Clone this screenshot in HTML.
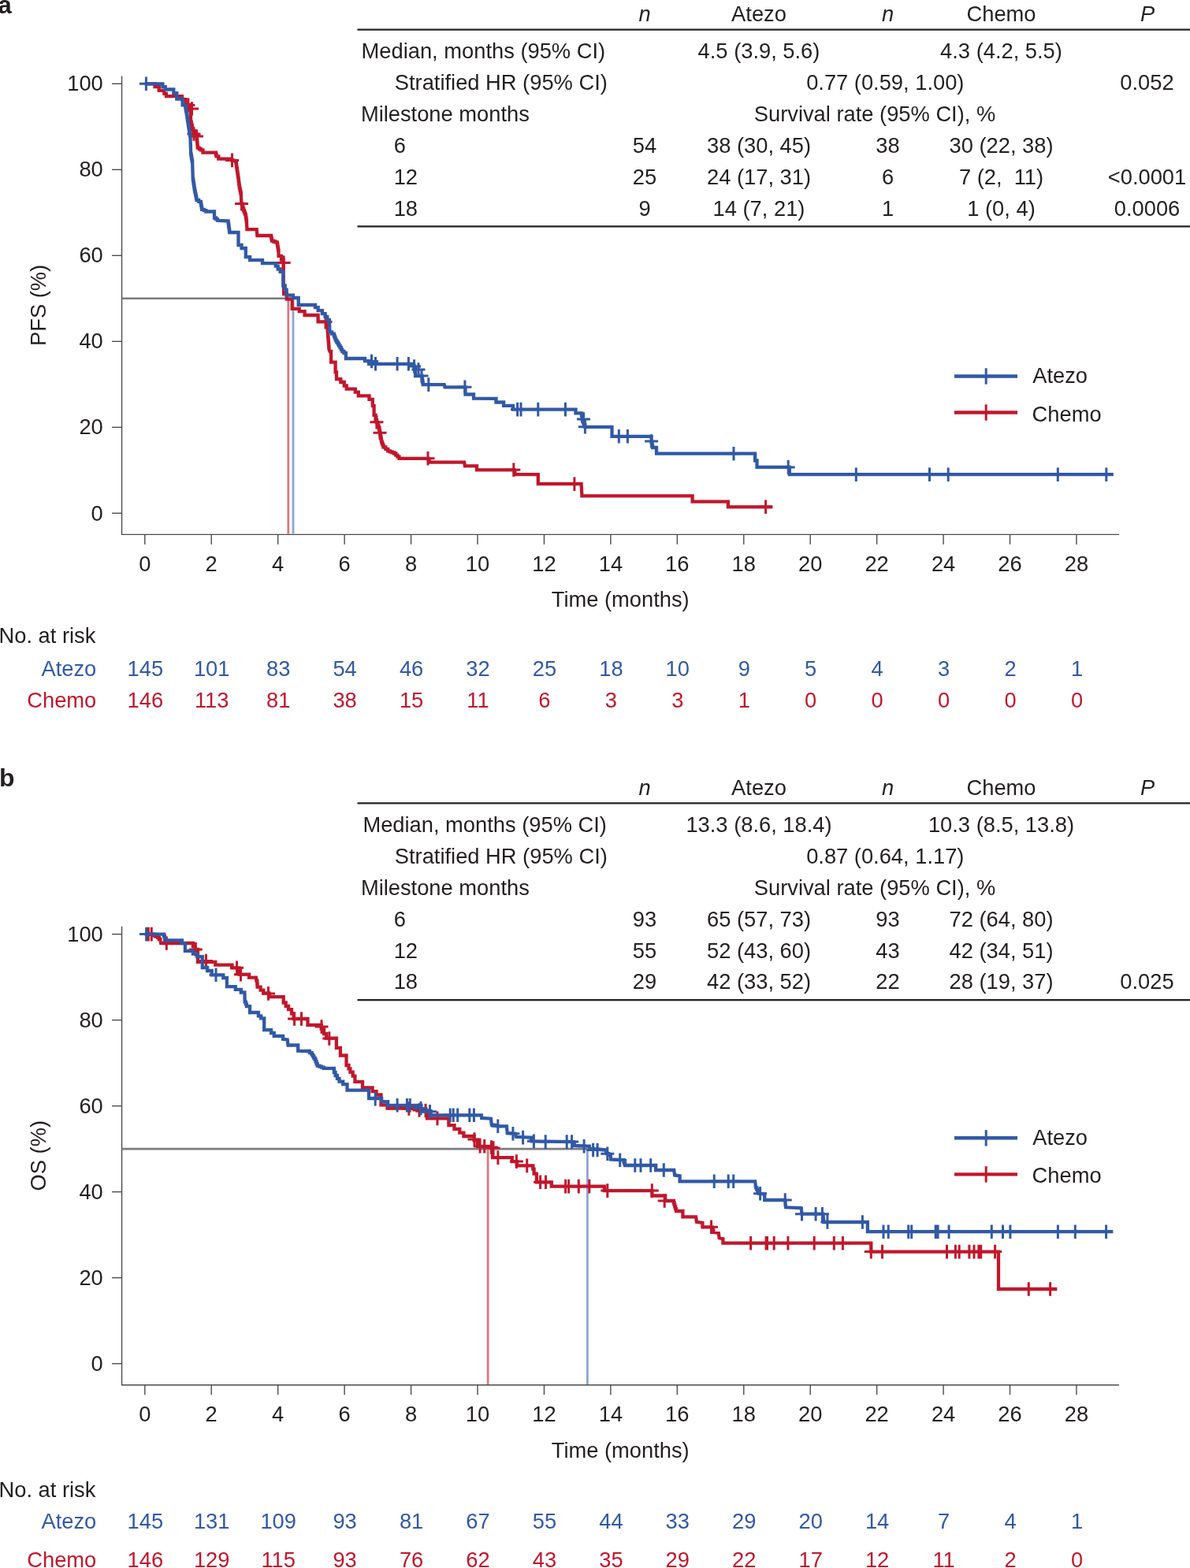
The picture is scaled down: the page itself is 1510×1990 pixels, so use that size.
<!DOCTYPE html>
<html><head><meta charset="utf-8"><title>Kaplan-Meier PFS and OS</title>
<style>html,body{margin:0;padding:0;background:#fff;}body{width:1510px;height:1990px;overflow:hidden;}svg{display:block;}</style>
</head><body>
<svg width="1510" height="1990" viewBox="0 0 1510 1990" font-family="Liberation Sans, Arial, Helvetica, sans-serif">
<rect width="1510" height="1990" fill="#fff"/>
<text x="-2.5" y="17.3" font-size="31" font-weight="bold" fill="#231f20">a</text>
<text x="-1" y="998" font-size="32" font-weight="bold" fill="#231f20">b</text>
<g>
<path d="M154.55,96.4 V678.4 H1420" fill="none" stroke="#4d4b4c" stroke-width="1.4"/>
<line x1="142" y1="651.35" x2="154.55" y2="651.35" stroke="#4d4b4c" stroke-width="1.4"/>
<text x="130.8" y="660.5" text-anchor="end" fill="#231f20" font-size="27.3" >0</text>
<line x1="142" y1="542.34" x2="154.55" y2="542.34" stroke="#4d4b4c" stroke-width="1.4"/>
<text x="130.8" y="551.4" text-anchor="end" fill="#231f20" font-size="27.3" >20</text>
<line x1="142" y1="433.33" x2="154.55" y2="433.33" stroke="#4d4b4c" stroke-width="1.4"/>
<text x="130.8" y="442.4" text-anchor="end" fill="#231f20" font-size="27.3" >40</text>
<line x1="142" y1="324.32" x2="154.55" y2="324.32" stroke="#4d4b4c" stroke-width="1.4"/>
<text x="130.8" y="333.4" text-anchor="end" fill="#231f20" font-size="27.3" >60</text>
<line x1="142" y1="215.31" x2="154.55" y2="215.31" stroke="#4d4b4c" stroke-width="1.4"/>
<text x="130.8" y="224.4" text-anchor="end" fill="#231f20" font-size="27.3" >80</text>
<line x1="142" y1="106.30" x2="154.55" y2="106.30" stroke="#4d4b4c" stroke-width="1.4"/>
<text x="130.8" y="115.4" text-anchor="end" fill="#231f20" font-size="27.3" >100</text>
<line x1="183.80" y1="678.4" x2="183.80" y2="690.90" stroke="#4d4b4c" stroke-width="1.4"/>
<text x="183.8" y="724.6" text-anchor="middle" fill="#231f20" font-size="27.3" >0</text>
<line x1="268.24" y1="678.4" x2="268.24" y2="690.90" stroke="#4d4b4c" stroke-width="1.4"/>
<text x="268.2" y="724.6" text-anchor="middle" fill="#231f20" font-size="27.3" >2</text>
<line x1="352.68" y1="678.4" x2="352.68" y2="690.90" stroke="#4d4b4c" stroke-width="1.4"/>
<text x="352.7" y="724.6" text-anchor="middle" fill="#231f20" font-size="27.3" >4</text>
<line x1="437.12" y1="678.4" x2="437.12" y2="690.90" stroke="#4d4b4c" stroke-width="1.4"/>
<text x="437.1" y="724.6" text-anchor="middle" fill="#231f20" font-size="27.3" >6</text>
<line x1="521.56" y1="678.4" x2="521.56" y2="690.90" stroke="#4d4b4c" stroke-width="1.4"/>
<text x="521.6" y="724.6" text-anchor="middle" fill="#231f20" font-size="27.3" >8</text>
<line x1="606.00" y1="678.4" x2="606.00" y2="690.90" stroke="#4d4b4c" stroke-width="1.4"/>
<text x="606.0" y="724.6" text-anchor="middle" fill="#231f20" font-size="27.3" >10</text>
<line x1="690.44" y1="678.4" x2="690.44" y2="690.90" stroke="#4d4b4c" stroke-width="1.4"/>
<text x="690.4" y="724.6" text-anchor="middle" fill="#231f20" font-size="27.3" >12</text>
<line x1="774.88" y1="678.4" x2="774.88" y2="690.90" stroke="#4d4b4c" stroke-width="1.4"/>
<text x="774.9" y="724.6" text-anchor="middle" fill="#231f20" font-size="27.3" >14</text>
<line x1="859.32" y1="678.4" x2="859.32" y2="690.90" stroke="#4d4b4c" stroke-width="1.4"/>
<text x="859.3" y="724.6" text-anchor="middle" fill="#231f20" font-size="27.3" >16</text>
<line x1="943.76" y1="678.4" x2="943.76" y2="690.90" stroke="#4d4b4c" stroke-width="1.4"/>
<text x="943.8" y="724.6" text-anchor="middle" fill="#231f20" font-size="27.3" >18</text>
<line x1="1028.20" y1="678.4" x2="1028.20" y2="690.90" stroke="#4d4b4c" stroke-width="1.4"/>
<text x="1028.2" y="724.6" text-anchor="middle" fill="#231f20" font-size="27.3" >20</text>
<line x1="1112.64" y1="678.4" x2="1112.64" y2="690.90" stroke="#4d4b4c" stroke-width="1.4"/>
<text x="1112.6" y="724.6" text-anchor="middle" fill="#231f20" font-size="27.3" >22</text>
<line x1="1197.08" y1="678.4" x2="1197.08" y2="690.90" stroke="#4d4b4c" stroke-width="1.4"/>
<text x="1197.1" y="724.6" text-anchor="middle" fill="#231f20" font-size="27.3" >24</text>
<line x1="1281.52" y1="678.4" x2="1281.52" y2="690.90" stroke="#4d4b4c" stroke-width="1.4"/>
<text x="1281.5" y="724.6" text-anchor="middle" fill="#231f20" font-size="27.3" >26</text>
<line x1="1365.96" y1="678.4" x2="1365.96" y2="690.90" stroke="#4d4b4c" stroke-width="1.4"/>
<text x="1366.0" y="724.6" text-anchor="middle" fill="#231f20" font-size="27.3" >28</text>
<text x="787.2" y="770.4" text-anchor="middle" fill="#231f20" font-size="27.3" >Time (months)</text>
<text x="0" y="0" transform="translate(58.3,387.4) rotate(-90)" text-anchor="middle" fill="#231f20" font-size="27.3">PFS (%)</text>
<line x1="154.55" y1="378.82" x2="372" y2="378.82" stroke="#7b7c7e" stroke-width="2.6"/>
<line x1="365.8" y1="378.82" x2="365.8" y2="677.70" stroke="#d97a7f" stroke-width="2.8"/>
<line x1="372.0" y1="378.82" x2="372.0" y2="677.70" stroke="#8ea5d1" stroke-width="2.8"/>
<path d="M183.8,106.3 L196.5,106.3 L196.5,110.2 L201.8,110.2 L201.8,114.9 L208.4,114.9 L208.4,118.8 L211.0,118.8 L211.0,122.2 L230.9,122.2 L230.9,126.1 L235.6,126.1 L235.6,132.0 L238.0,133.0 L239.8,133.0 L239.8,135.8 L241.5,135.8 L241.5,138.7 L242.2,154.6 L242.7,154.6 L242.7,156.9 L243.2,156.9 L243.2,159.2 L243.7,159.2 L243.7,161.6 L244.2,161.6 L244.2,163.9 L245.1,163.9 L245.1,166.1 L245.9,166.1 L245.9,168.3 L246.8,168.3 L246.8,170.5 L249.5,170.5 L249.5,173.1 L249.7,173.1 L249.7,175.5 L249.9,175.5 L249.9,178.0 L250.2,178.0 L250.2,180.4 L250.4,180.4 L250.4,182.8 L250.6,182.8 L250.6,185.3 L250.8,185.3 L250.8,187.7 L252.8,187.7 L252.8,189.0 L254.8,189.0 L254.8,190.3 L257.4,190.3 L257.4,193.7 L273.3,193.7 L274.0,193.7 L274.0,196.0 L274.6,196.0 L274.6,198.3 L277.3,198.3 L277.3,201.6 L289.2,201.6 L291.9,201.6 L291.9,202.6 L294.5,202.6 L294.5,203.6 L296.8,203.6 L296.8,204.2 L299.1,204.2 L299.1,204.9 L299.5,204.9 L299.5,207.2 L299.8,207.2 L299.8,209.6 L300.1,209.6 L300.1,211.9 L300.5,211.9 L300.5,214.2 L300.9,214.2 L300.9,216.9 L301.3,216.9 L301.3,219.5 L301.7,219.5 L301.7,222.2 L302.1,222.2 L302.1,224.8 L302.5,224.8 L302.5,227.5 L302.8,227.5 L302.8,230.1 L303.1,230.1 L303.1,232.8 L303.5,232.8 L303.5,235.4 L303.8,235.4 L303.8,238.0 L304.3,238.0 L304.3,240.3 L304.8,240.3 L304.8,242.7 L305.3,242.7 L305.3,245.0 L305.8,245.0 L305.8,247.3 L306.4,258.6 L307.3,258.6 L307.3,261.5 L308.2,261.5 L308.2,264.3 L309.1,264.3 L309.1,267.2 L310.0,267.2 L310.0,269.4 L310.8,269.4 L310.8,271.6 L311.7,271.6 L311.7,273.8 L312.0,273.8 L312.0,276.1 L312.4,276.1 L312.4,278.5 L312.7,278.5 L312.7,280.8 L313.0,280.8 L313.0,283.1 L313.4,291.1 L325.7,291.1 L326.4,299.0 L343.6,299.0 L344.0,299.0 L344.0,301.2 L344.5,301.2 L344.5,303.4 L344.9,303.4 L344.9,305.6 L347.1,305.6 L347.1,306.5 L349.3,306.5 L349.3,307.4 L351.5,307.4 L351.5,308.3 L351.9,308.3 L351.9,310.7 L352.3,310.7 L352.3,313.1 L352.7,313.1 L352.7,315.4 L353.1,315.4 L353.1,317.8 L353.5,317.8 L353.5,320.2 L353.5,324.8 L357.0,324.8 L357.0,329.5 L359.5,329.5 L359.7,355.0 L360.2,373.0 L363.8,373.0 L363.8,379.6 L370.7,379.6 L370.7,391.8 L379.7,391.8 L379.7,395.2 L386.6,395.2 L386.6,400.0 L403.6,400.0 L403.6,408.3 L414.3,408.3 L415.1,411.8 L415.9,422.9 L416.1,422.9 L416.1,425.5 L416.3,425.5 L416.3,428.1 L416.5,428.1 L416.5,430.7 L416.7,430.7 L416.7,433.2 L416.9,433.2 L416.9,435.8 L417.1,435.8 L417.1,438.4 L417.3,438.4 L417.3,441.0 L417.5,441.0 L417.5,443.6 L418.5,446.0 L420.1,446.0 L420.1,459.6 L425.6,459.6 L425.6,472.3 L427.0,472.3 L427.0,481.1 L432.3,481.1 L432.3,485.0 L436.8,485.0 L436.8,489.5 L439.7,489.5 L439.7,493.6 L450.8,493.6 L450.8,497.7 L454.8,497.7 L454.8,502.3 L468.5,502.3 L468.5,506.8 L472.8,506.8 L472.8,515.2 L474.6,515.2 L474.6,526.9 L476.5,526.9 L476.5,533.2 L478.0,533.2 L478.0,535.8 L478.8,535.8 L478.8,537.9 L479.5,537.9 L479.5,540.0 L480.3,540.0 L480.3,542.1 L480.9,542.1 L480.9,544.5 L481.4,544.5 L481.4,546.9 L482.0,546.9 L482.0,549.3 L482.4,549.3 L482.4,551.7 L482.9,551.7 L482.9,554.1 L483.3,554.1 L483.3,556.4 L483.8,556.4 L483.8,558.8 L484.2,558.8 L484.2,561.2 L485.0,561.2 L485.0,563.3 L485.8,563.3 L485.8,565.4 L486.6,565.4 L486.6,567.5 L489.4,567.5 L489.4,569.9 L492.2,569.9 L492.2,572.3 L494.8,572.3 L494.8,573.4 L497.5,573.4 L497.5,574.4 L500.1,574.4 L500.1,575.5 L502.2,575.5 L502.2,577.6 L504.4,577.6 L504.4,579.7 L506.5,579.7 L506.5,581.8 L543.0,581.8 L543.8,581.8 L543.8,584.2 L544.6,584.2 L544.6,586.6 L589.1,586.6 L589.9,591.4 L605.0,591.4 L605.0,596.3 L651.8,596.3 L652.6,596.3 L652.6,599.2 L653.4,599.2 L653.4,602.2 L682.8,602.2 L682.8,614.2 L737.6,614.2 L738.4,629.3 L878.6,629.3 L878.6,636.6 L923.9,636.6 L923.9,643.3 L980.3,643.3" fill="none" stroke="#c0172c" stroke-width="4.3" stroke-linejoin="miter" stroke-linecap="butt"/>
<path d="M238.9,124.6v17.6M230.4,133.4h17M243.5,129.2v17.6M235.0,138.0h17M246.0,161.2v17.6M237.5,170.0h17M249.5,164.2v17.6M241.0,173.0h17M294.5,194.6v17.6M286.0,203.4h17M306.5,249.8v17.6M298.0,258.6h17M360.1,324.6v17.6M351.6,333.4h17M413.0,399.8v17.6M404.5,408.6h17M477.9,527.0v17.6M469.4,535.8h17M482.0,540.5v17.6M473.5,549.3h17M543.0,573.0v17.6M534.5,581.8h17M651.8,587.5v17.6M643.3,596.3h17M728.9,605.4v17.6M720.4,614.2h17M971.6,634.5v17.6M963.1,643.3h17" fill="none" stroke="#c0172c" stroke-width="3"/>
<path d="M183.8,106.3 L206.4,106.3 L206.4,110.2 L209.7,110.2 L209.7,113.5 L220.3,113.5 L220.3,118.2 L224.3,118.2 L224.3,125.5 L231.6,125.5 L231.6,133.4 L234.9,133.4 L235.3,133.4 L235.3,136.0 L235.7,136.0 L235.7,138.5 L236.1,138.5 L236.1,141.1 L236.6,141.1 L236.6,143.7 L237.0,143.7 L237.0,146.2 L237.4,146.2 L237.4,148.8 L237.8,148.8 L237.8,151.4 L238.2,151.4 L238.2,153.9 L238.6,153.9 L238.6,156.5 L239.0,156.5 L239.0,159.1 L239.4,159.1 L239.4,161.7 L239.8,161.7 L239.8,164.2 L240.3,164.2 L240.3,166.8 L240.7,166.8 L240.7,169.4 L241.1,169.4 L241.1,171.9 L241.5,171.9 L241.5,174.5 L242.2,195.7 L242.6,195.7 L242.6,198.1 L243.0,198.1 L243.0,200.5 L243.4,200.5 L243.4,202.8 L243.8,202.8 L243.8,205.2 L244.2,205.2 L244.2,207.6 L244.8,227.5 L245.2,227.5 L245.2,230.1 L245.6,230.1 L245.6,232.8 L246.0,232.8 L246.0,235.4 L246.4,235.4 L246.4,238.1 L246.8,238.1 L246.8,240.7 L247.3,240.7 L247.3,243.3 L247.9,243.3 L247.9,246.0 L248.4,246.0 L248.4,248.6 L249.0,248.6 L249.0,251.3 L249.5,251.3 L249.5,253.9 L252.2,253.9 L252.2,255.9 L254.8,255.9 L254.8,257.9 L255.2,257.9 L255.2,260.6 L255.7,260.6 L255.7,263.2 L256.1,263.2 L256.1,265.9 L258.8,265.9 L258.8,267.2 L261.4,267.2 L261.4,268.5 L272.0,268.5 L272.0,276.5 L274.0,276.5 L274.0,278.1 L276.0,278.1 L276.0,279.8 L289.3,280.5 L289.6,280.5 L289.6,282.9 L290.0,282.9 L290.0,285.3 L290.3,285.3 L290.3,287.8 L290.6,287.8 L290.6,290.2 L291.0,290.2 L291.0,292.6 L291.3,292.6 L291.3,295.0 L302.5,295.0 L302.5,311.0 L306.5,311.0 L306.5,315.0 L311.8,315.0 L311.8,326.2 L317.1,326.2 L317.1,330.1 L333.0,330.1 L333.0,334.1 L349.8,334.1 L349.8,337.7 L352.7,337.7 L352.7,341.5 L355.6,341.5 L355.6,344.9 L359.3,344.9 L359.3,362.4 L361.7,362.4 L361.7,367.7 L363.6,367.7 L363.6,374.6 L371.8,374.6 L371.8,378.0 L378.7,378.0 L378.7,387.0 L399.9,387.0 L399.9,390.2 L403.6,390.2 L403.6,394.2 L408.9,394.2 L408.9,398.1 L412.6,398.1 L412.6,401.9 L415.2,401.9 L415.2,405.8 L417.9,405.8 L418.3,421.3 L421.1,421.3 L421.1,423.7 L423.8,423.7 L423.8,426.1 L424.6,426.1 L424.6,428.2 L425.4,428.2 L425.4,430.3 L426.2,430.3 L426.2,432.4 L427.5,432.4 L427.5,434.5 L428.9,434.5 L428.9,436.7 L430.2,436.7 L430.2,438.8 L431.5,438.8 L431.5,441.2 L432.9,441.2 L432.9,443.6 L434.2,443.6 L434.2,446.0 L436.5,446.0 L436.5,448.0 L438.9,448.0 L438.9,450.0 L438.9,455.0 L463.0,455.0 L463.0,458.2 L468.0,458.2 L468.0,461.8 L524.0,461.8 L524.8,461.8 L524.8,464.2 L525.6,464.2 L525.6,466.6 L527.1,466.6 L527.1,469.0 L527.1,477.0 L535.1,477.0 L535.5,477.0 L535.5,479.8 L535.9,479.8 L535.9,482.6 L536.3,482.6 L536.3,485.3 L536.7,485.3 L536.7,488.1 L563.7,488.1 L564.5,491.3 L590.5,491.3 L590.5,500.5 L601.0,500.5 L601.0,505.6 L629.5,505.8 L629.5,510.5 L639.1,510.5 L639.1,514.8 L651.0,514.8 L651.0,519.6 L730.5,519.6 L730.5,524.4 L737.6,524.4 L738.0,524.4 L738.0,527.0 L738.4,527.0 L738.4,529.5 L738.8,529.5 L738.8,532.1 L739.2,532.1 L739.2,534.7 L740.3,534.7 L740.3,537.1 L741.3,537.1 L741.3,539.4 L742.4,539.4 L742.4,541.8 L776.5,541.8 L776.5,553.8 L826.6,553.8 L826.6,561.7 L827.1,561.7 L827.1,563.8 L827.7,563.8 L827.7,565.9 L828.2,565.9 L828.2,568.0 L833.0,568.0 L833.0,575.7 L958.1,575.7 L958.1,584.5 L960.5,584.5 L960.5,592.9 L1001.8,592.9 L1001.8,602.2 L1412.8,602.2" fill="none" stroke="#3159a5" stroke-width="4.3" stroke-linejoin="miter" stroke-linecap="butt"/>
<path d="M185.4,97.5v17.6M176.9,106.3h17M471.5,449.7v17.6M463.0,458.5h17M476.5,453.0v17.6M468.0,461.8h17M504.1,453.0v17.6M495.6,461.8h17M518.4,453.0v17.6M509.9,461.8h17M525.6,456.2v17.6M517.1,465.0h17M531.0,460.2v17.6M522.5,469.0h17M535.0,468.2v17.6M526.5,477.0h17M543.8,479.3v17.6M535.3,488.1h17M589.9,482.5v17.6M581.4,491.3h17M656.6,510.8v17.6M648.1,519.6h17M661.0,510.8v17.6M652.5,519.6h17M682.8,510.8v17.6M674.3,519.6h17M717.4,510.8v17.6M708.9,519.6h17M740.5,523.2v17.6M732.0,532.0h17M742.4,533.0v17.6M733.9,541.8h17M785.3,545.0v17.6M776.8,553.8h17M796.4,545.0v17.6M787.9,553.8h17M826.6,551.2v17.6M818.1,560.0h17M931.0,566.9v17.6M922.5,575.7h17M1000.2,584.1v17.6M991.7,592.9h17M1086.3,593.4v17.6M1077.8,602.2h17M1179.5,593.4v17.6M1171.0,602.2h17M1203.2,593.4v17.6M1194.7,602.2h17M1342.3,593.4v17.6M1333.8,602.2h17M1403.8,593.4v17.6M1395.3,602.2h17" fill="none" stroke="#3159a5" stroke-width="3"/>
<path d="M1211,477.5h80" fill="none" stroke="#3159a5" stroke-width="4.4"/>
<path d="M1251.2,467.3v20.4" fill="none" stroke="#3159a5" stroke-width="3"/>
<text x="1310.2" y="486.4" text-anchor="start" fill="#231f20" font-size="27.3" >Atezo</text>
<path d="M1211,523.5h80" fill="none" stroke="#c0172c" stroke-width="4.4"/>
<path d="M1251.2,513.3v20.4" fill="none" stroke="#c0172c" stroke-width="3"/>
<text x="1309.6" y="535.3" text-anchor="start" fill="#231f20" font-size="27.3" >Chemo</text>
<line x1="453.5" y1="37.6" x2="1510" y2="37.6" stroke="#231f20" stroke-width="2.2"/>
<line x1="453.5" y1="287.3" x2="1510" y2="287.3" stroke="#231f20" stroke-width="2.2"/>
<text x="818.0" y="26.8" text-anchor="middle" fill="#231f20" font-size="27.3" font-style="italic">n</text>
<text x="963.0" y="26.8" text-anchor="middle" fill="#231f20" font-size="27.3" >Atezo</text>
<text x="1126.5" y="26.8" text-anchor="middle" fill="#231f20" font-size="27.3" font-style="italic">n</text>
<text x="1270.5" y="26.8" text-anchor="middle" fill="#231f20" font-size="27.3" >Chemo</text>
<text x="1456.0" y="26.8" text-anchor="middle" fill="#231f20" font-size="27.3" font-style="italic">P</text>
<text x="458.6" y="74.4" text-anchor="start" fill="#231f20" font-size="27.3" >Median, months (95% CI)</text>
<text x="500.8" y="114.4" text-anchor="start" fill="#231f20" font-size="27.3" >Stratified HR (95% CI)</text>
<text x="457.9" y="153.8" text-anchor="start" fill="#231f20" font-size="27.3" >Milestone months</text>
<text x="963.0" y="74.4" text-anchor="middle" fill="#231f20" font-size="27.3" >4.5 (3.9, 5.6)</text>
<text x="1270.5" y="74.4" text-anchor="middle" fill="#231f20" font-size="27.3" >4.3 (4.2, 5.5)</text>
<text x="1123.3" y="114.4" text-anchor="middle" fill="#231f20" font-size="27.3" >0.77 (0.59, 1.00)</text>
<text x="1455.5" y="114.4" text-anchor="middle" fill="#231f20" font-size="27.3" >0.052</text>
<text x="1110.0" y="153.8" text-anchor="middle" fill="#231f20" font-size="27.3" >Survival rate (95% CI), %</text>
<text x="499.7" y="194.2" text-anchor="start" fill="#231f20" font-size="27.3" >6</text>
<text x="818.0" y="194.2" text-anchor="middle" fill="#231f20" font-size="27.3" >54</text>
<text x="963.0" y="194.2" text-anchor="middle" fill="#231f20" font-size="27.3" >38 (30, 45)</text>
<text x="1126.5" y="194.2" text-anchor="middle" fill="#231f20" font-size="27.3" >38</text>
<text x="1270.5" y="194.2" text-anchor="middle" fill="#231f20" font-size="27.3" >30 (22, 38)</text>
<text x="499.7" y="234.3" text-anchor="start" fill="#231f20" font-size="27.3" >12</text>
<text x="818.0" y="234.3" text-anchor="middle" fill="#231f20" font-size="27.3" >25</text>
<text x="963.0" y="234.3" text-anchor="middle" fill="#231f20" font-size="27.3" >24 (17, 31)</text>
<text x="1126.5" y="234.3" text-anchor="middle" fill="#231f20" font-size="27.3" >6</text>
<text x="1270.5" y="234.3" text-anchor="middle" fill="#231f20" font-size="27.3" >7 (2,&#160; 11)</text>
<text x="1455.5" y="234.3" text-anchor="middle" fill="#231f20" font-size="27.3" >&lt;0.0001</text>
<text x="499.7" y="273.6" text-anchor="start" fill="#231f20" font-size="27.3" >18</text>
<text x="818.0" y="273.6" text-anchor="middle" fill="#231f20" font-size="27.3" >9</text>
<text x="963.0" y="273.6" text-anchor="middle" fill="#231f20" font-size="27.3" >14 (7, 21)</text>
<text x="1126.5" y="273.6" text-anchor="middle" fill="#231f20" font-size="27.3" >1</text>
<text x="1270.5" y="273.6" text-anchor="middle" fill="#231f20" font-size="27.3" >1 (0, 4)</text>
<text x="1455.5" y="273.6" text-anchor="middle" fill="#231f20" font-size="27.3" >0.0006</text>
<text x="-1.5" y="815.5" text-anchor="start" fill="#231f20" font-size="27.3" >No. at risk</text>
<text x="122.3" y="857.9" text-anchor="end" fill="#3159a5" font-size="27.3" >Atezo</text>
<text x="122.3" y="897.9" text-anchor="end" fill="#c0172c" font-size="27.3" >Chemo</text>
<text x="184.3" y="857.9" text-anchor="middle" fill="#3159a5" font-size="27.3" >145</text>
<text x="268.7" y="857.9" text-anchor="middle" fill="#3159a5" font-size="27.3" >101</text>
<text x="353.2" y="857.9" text-anchor="middle" fill="#3159a5" font-size="27.3" >83</text>
<text x="437.6" y="857.9" text-anchor="middle" fill="#3159a5" font-size="27.3" >54</text>
<text x="522.1" y="857.9" text-anchor="middle" fill="#3159a5" font-size="27.3" >46</text>
<text x="606.5" y="857.9" text-anchor="middle" fill="#3159a5" font-size="27.3" >32</text>
<text x="690.9" y="857.9" text-anchor="middle" fill="#3159a5" font-size="27.3" >25</text>
<text x="775.4" y="857.9" text-anchor="middle" fill="#3159a5" font-size="27.3" >18</text>
<text x="859.8" y="857.9" text-anchor="middle" fill="#3159a5" font-size="27.3" >10</text>
<text x="944.3" y="857.9" text-anchor="middle" fill="#3159a5" font-size="27.3" >9</text>
<text x="1028.7" y="857.9" text-anchor="middle" fill="#3159a5" font-size="27.3" >5</text>
<text x="1113.1" y="857.9" text-anchor="middle" fill="#3159a5" font-size="27.3" >4</text>
<text x="1197.6" y="857.9" text-anchor="middle" fill="#3159a5" font-size="27.3" >3</text>
<text x="1282.0" y="857.9" text-anchor="middle" fill="#3159a5" font-size="27.3" >2</text>
<text x="1366.5" y="857.9" text-anchor="middle" fill="#3159a5" font-size="27.3" >1</text>
<text x="184.3" y="897.9" text-anchor="middle" fill="#c0172c" font-size="27.3" >146</text>
<text x="268.7" y="897.9" text-anchor="middle" fill="#c0172c" font-size="27.3" >113</text>
<text x="353.2" y="897.9" text-anchor="middle" fill="#c0172c" font-size="27.3" >81</text>
<text x="437.6" y="897.9" text-anchor="middle" fill="#c0172c" font-size="27.3" >38</text>
<text x="522.1" y="897.9" text-anchor="middle" fill="#c0172c" font-size="27.3" >15</text>
<text x="606.5" y="897.9" text-anchor="middle" fill="#c0172c" font-size="27.3" >11</text>
<text x="690.9" y="897.9" text-anchor="middle" fill="#c0172c" font-size="27.3" >6</text>
<text x="775.4" y="897.9" text-anchor="middle" fill="#c0172c" font-size="27.3" >3</text>
<text x="859.8" y="897.9" text-anchor="middle" fill="#c0172c" font-size="27.3" >3</text>
<text x="944.3" y="897.9" text-anchor="middle" fill="#c0172c" font-size="27.3" >1</text>
<text x="1028.7" y="897.9" text-anchor="middle" fill="#c0172c" font-size="27.3" >0</text>
<text x="1113.1" y="897.9" text-anchor="middle" fill="#c0172c" font-size="27.3" >0</text>
<text x="1197.6" y="897.9" text-anchor="middle" fill="#c0172c" font-size="27.3" >0</text>
<text x="1282.0" y="897.9" text-anchor="middle" fill="#c0172c" font-size="27.3" >0</text>
<text x="1366.5" y="897.9" text-anchor="middle" fill="#c0172c" font-size="27.3" >0</text>
</g>
<g transform="translate(0,1079.3)">
<path d="M154.55,96.4 V678.4 H1420" fill="none" stroke="#4d4b4c" stroke-width="1.4"/>
<line x1="142" y1="651.35" x2="154.55" y2="651.35" stroke="#4d4b4c" stroke-width="1.4"/>
<text x="130.8" y="660.5" text-anchor="end" fill="#231f20" font-size="27.3" >0</text>
<line x1="142" y1="542.34" x2="154.55" y2="542.34" stroke="#4d4b4c" stroke-width="1.4"/>
<text x="130.8" y="551.4" text-anchor="end" fill="#231f20" font-size="27.3" >20</text>
<line x1="142" y1="433.33" x2="154.55" y2="433.33" stroke="#4d4b4c" stroke-width="1.4"/>
<text x="130.8" y="442.4" text-anchor="end" fill="#231f20" font-size="27.3" >40</text>
<line x1="142" y1="324.32" x2="154.55" y2="324.32" stroke="#4d4b4c" stroke-width="1.4"/>
<text x="130.8" y="333.4" text-anchor="end" fill="#231f20" font-size="27.3" >60</text>
<line x1="142" y1="215.31" x2="154.55" y2="215.31" stroke="#4d4b4c" stroke-width="1.4"/>
<text x="130.8" y="224.4" text-anchor="end" fill="#231f20" font-size="27.3" >80</text>
<line x1="142" y1="106.30" x2="154.55" y2="106.30" stroke="#4d4b4c" stroke-width="1.4"/>
<text x="130.8" y="115.4" text-anchor="end" fill="#231f20" font-size="27.3" >100</text>
<line x1="183.80" y1="678.4" x2="183.80" y2="690.90" stroke="#4d4b4c" stroke-width="1.4"/>
<text x="183.8" y="724.6" text-anchor="middle" fill="#231f20" font-size="27.3" >0</text>
<line x1="268.24" y1="678.4" x2="268.24" y2="690.90" stroke="#4d4b4c" stroke-width="1.4"/>
<text x="268.2" y="724.6" text-anchor="middle" fill="#231f20" font-size="27.3" >2</text>
<line x1="352.68" y1="678.4" x2="352.68" y2="690.90" stroke="#4d4b4c" stroke-width="1.4"/>
<text x="352.7" y="724.6" text-anchor="middle" fill="#231f20" font-size="27.3" >4</text>
<line x1="437.12" y1="678.4" x2="437.12" y2="690.90" stroke="#4d4b4c" stroke-width="1.4"/>
<text x="437.1" y="724.6" text-anchor="middle" fill="#231f20" font-size="27.3" >6</text>
<line x1="521.56" y1="678.4" x2="521.56" y2="690.90" stroke="#4d4b4c" stroke-width="1.4"/>
<text x="521.6" y="724.6" text-anchor="middle" fill="#231f20" font-size="27.3" >8</text>
<line x1="606.00" y1="678.4" x2="606.00" y2="690.90" stroke="#4d4b4c" stroke-width="1.4"/>
<text x="606.0" y="724.6" text-anchor="middle" fill="#231f20" font-size="27.3" >10</text>
<line x1="690.44" y1="678.4" x2="690.44" y2="690.90" stroke="#4d4b4c" stroke-width="1.4"/>
<text x="690.4" y="724.6" text-anchor="middle" fill="#231f20" font-size="27.3" >12</text>
<line x1="774.88" y1="678.4" x2="774.88" y2="690.90" stroke="#4d4b4c" stroke-width="1.4"/>
<text x="774.9" y="724.6" text-anchor="middle" fill="#231f20" font-size="27.3" >14</text>
<line x1="859.32" y1="678.4" x2="859.32" y2="690.90" stroke="#4d4b4c" stroke-width="1.4"/>
<text x="859.3" y="724.6" text-anchor="middle" fill="#231f20" font-size="27.3" >16</text>
<line x1="943.76" y1="678.4" x2="943.76" y2="690.90" stroke="#4d4b4c" stroke-width="1.4"/>
<text x="943.8" y="724.6" text-anchor="middle" fill="#231f20" font-size="27.3" >18</text>
<line x1="1028.20" y1="678.4" x2="1028.20" y2="690.90" stroke="#4d4b4c" stroke-width="1.4"/>
<text x="1028.2" y="724.6" text-anchor="middle" fill="#231f20" font-size="27.3" >20</text>
<line x1="1112.64" y1="678.4" x2="1112.64" y2="690.90" stroke="#4d4b4c" stroke-width="1.4"/>
<text x="1112.6" y="724.6" text-anchor="middle" fill="#231f20" font-size="27.3" >22</text>
<line x1="1197.08" y1="678.4" x2="1197.08" y2="690.90" stroke="#4d4b4c" stroke-width="1.4"/>
<text x="1197.1" y="724.6" text-anchor="middle" fill="#231f20" font-size="27.3" >24</text>
<line x1="1281.52" y1="678.4" x2="1281.52" y2="690.90" stroke="#4d4b4c" stroke-width="1.4"/>
<text x="1281.5" y="724.6" text-anchor="middle" fill="#231f20" font-size="27.3" >26</text>
<line x1="1365.96" y1="678.4" x2="1365.96" y2="690.90" stroke="#4d4b4c" stroke-width="1.4"/>
<text x="1366.0" y="724.6" text-anchor="middle" fill="#231f20" font-size="27.3" >28</text>
<text x="787.2" y="770.4" text-anchor="middle" fill="#231f20" font-size="27.3" >Time (months)</text>
<text x="0" y="0" transform="translate(58.3,387.4) rotate(-90)" text-anchor="middle" fill="#231f20" font-size="27.3">OS (%)</text>
<line x1="154.55" y1="378.82" x2="745" y2="378.82" stroke="#7b7c7e" stroke-width="2.6"/>
<line x1="619.1" y1="378.82" x2="619.1" y2="677.70" stroke="#d97a7f" stroke-width="2.8"/>
<line x1="745.4" y1="378.82" x2="745.4" y2="677.70" stroke="#8ea5d1" stroke-width="2.8"/>
<path d="M183.8,106.3 L195.4,106.3 L195.4,108.2 L197.8,108.2 L197.8,109.4 L200.2,109.4 L200.2,110.6 L201.8,110.6 L201.8,112.6 L203.4,112.6 L203.4,114.5 L204.2,117.7 L244.9,117.7 L244.9,121.7 L247.5,121.7 L247.5,125.7 L251.0,125.7 L251.0,141.5 L273.3,141.5 L273.3,145.4 L294.5,145.4 L294.5,149.1 L303.5,149.1 L303.5,157.4 L316.0,157.4 L316.0,161.3 L325.0,161.3 L325.3,165.3 L326.3,165.3 L326.3,169.3 L326.6,169.3 L326.6,173.3 L330.6,173.3 L330.6,177.3 L334.2,177.3 L334.2,181.2 L341.5,181.2 L341.5,185.9 L359.7,185.9 L359.7,193.2 L362.7,193.2 L362.7,197.5 L366.0,197.5 L366.0,201.8 L370.0,201.8 L370.0,207.1 L372.6,207.1 L372.6,213.7 L390.5,213.7 L390.5,221.6 L407.7,221.6 L407.7,226.3 L411.0,226.3 L411.0,232.7 L414.0,232.7 L414.0,238.4 L426.9,238.4 L426.9,250.6 L431.9,250.6 L431.9,260.2 L439.5,260.2 L439.5,272.7 L442.5,272.7 L442.5,277.1 L444.4,277.1 L444.4,281.4 L447.7,281.4 L447.7,286.3 L450.4,286.3 L450.4,293.6 L460.0,293.6 L460.0,301.2 L472.6,301.2 L472.6,305.9 L477.5,305.9 L477.5,310.2 L483.5,310.2 L483.5,323.1 L491.5,323.1 L491.5,327.3 L528.3,327.3 L529.5,327.3 L529.5,330.2 L542.0,330.2 L542.0,340.1 L569.4,340.1 L569.4,348.8 L576.5,348.8 L576.5,353.6 L583.3,353.6 L583.3,358.4 L588.4,358.4 L588.4,362.7 L601.6,362.7 L601.6,367.7 L606.0,367.7 L606.0,375.5 L623.8,375.5 L625.0,375.9 L625.0,389.8 L649.8,389.8 L649.8,394.8 L655.8,394.8 L655.8,400.1 L676.3,400.1 L676.3,404.4 L677.6,404.4 L677.6,410.4 L680.9,410.4 L680.9,421.0 L699.8,421.0 L699.8,426.3 L766.9,426.3 L766.9,431.8 L827.4,431.8 L827.4,438.2 L844.1,438.2 L844.1,444.7 L854.3,444.7 L854.9,444.7 L854.9,447.2 L855.6,447.2 L855.6,449.6 L856.2,449.6 L856.2,452.1 L857.1,452.1 L857.1,454.9 L858.0,454.9 L858.0,457.7 L866.4,457.7 L866.4,465.1 L883.0,465.1 L884.0,471.6 L891.4,472.5 L891.4,478.0 L902.5,478.0 L903.4,478.0 L903.4,480.2 L904.4,480.2 L904.4,482.3 L905.3,482.3 L905.3,484.5 L911.8,485.5 L912.7,492.0 L917.4,492.9 L917.4,498.4 L1105.3,498.4 L1105.3,509.3 L1267.0,509.3 L1267.0,556.7 L1341.3,556.7" fill="none" stroke="#c0172c" stroke-width="4.3" stroke-linejoin="miter" stroke-linecap="butt"/>
<path d="M188.3,97.5v17.6M179.8,106.3h17M192.3,97.5v17.6M183.8,106.3h17M211.3,108.9v17.6M202.8,117.7h17M248.3,116.8v17.6M239.8,125.6h17M261.4,131.4v17.6M252.9,140.2h17M300.5,140.2v17.6M292.0,149.0h17M305.5,148.6v17.6M297.0,157.4h17M340.5,172.8v17.6M332.0,181.6h17M373.6,204.9v17.6M365.1,213.7h17M382.5,204.9v17.6M374.0,213.7h17M408.0,214.9v17.6M399.5,223.7h17M417.8,229.9v17.6M409.3,238.7h17M518.9,318.9v17.6M510.4,327.7h17M532.0,320.9v17.6M523.5,329.7h17M540.0,321.4v17.6M531.5,330.2h17M555.0,331.3v17.6M546.5,340.1h17M602.0,357.9v17.6M593.5,366.7h17M609.1,366.7v17.6M600.6,375.5h17M614.7,366.7v17.6M606.2,375.5h17M623.4,367.9v17.6M614.9,376.7h17M626.0,368.9v17.6M617.5,377.7h17M631.9,381.0v17.6M623.4,389.8h17M655.4,386.0v17.6M646.9,394.8h17M668.7,391.3v17.6M660.2,400.1h17M685.6,412.2v17.6M677.1,421.0h17M692.5,412.2v17.6M684.0,421.0h17M717.6,417.5v17.6M709.1,426.3h17M721.6,417.5v17.6M713.1,426.3h17M734.3,417.5v17.6M725.8,426.3h17M747.8,417.5v17.6M739.3,426.3h17M770.8,423.0v17.6M762.3,431.8h17M827.3,423.0v17.6M818.8,431.8h17M843.2,435.9v17.6M834.7,444.7h17M902.5,469.2v17.6M894.0,478.0h17M952.6,489.6v17.6M944.1,498.4h17M972.0,489.6v17.6M963.5,498.4h17M973.5,489.6v17.6M965.0,498.4h17M982.2,489.6v17.6M973.7,498.4h17M999.9,489.6v17.6M991.4,498.4h17M1033.2,489.6v17.6M1024.7,498.4h17M1058.3,489.6v17.6M1049.8,498.4h17M1069.4,489.6v17.6M1060.9,498.4h17M1105.3,500.5v17.6M1096.8,509.3h17M1119.5,500.5v17.6M1111.0,509.3h17M1201.5,500.5v17.6M1193.0,509.3h17M1212.4,500.5v17.6M1203.9,509.3h17M1217.2,500.5v17.6M1208.7,509.3h17M1229.9,500.5v17.6M1221.4,509.3h17M1236.0,500.5v17.6M1227.5,509.3h17M1241.9,500.5v17.6M1233.4,509.3h17M1244.7,500.5v17.6M1236.2,509.3h17M1262.6,500.5v17.6M1254.1,509.3h17M1305.3,547.9v17.6M1296.8,556.7h17M1332.6,547.9v17.6M1324.1,556.7h17" fill="none" stroke="#c0172c" stroke-width="3"/>
<path d="M183.8,106.3 L207.3,106.3 L208.1,106.3 L208.1,108.5 L208.9,108.5 L208.9,110.6 L209.0,114.0 L231.0,114.0 L231.0,117.8 L234.9,117.8 L234.9,127.6 L244.9,127.6 L244.9,131.2 L250.2,131.2 L250.2,134.8 L256.8,134.8 L256.8,148.7 L263.1,148.7 L263.1,152.7 L268.7,152.7 L268.7,158.0 L283.3,158.0 L283.3,161.7 L287.9,161.7 L287.9,172.9 L298.8,172.9 L298.8,176.6 L305.8,176.6 L305.8,180.2 L310.4,180.2 L310.7,192.4 L311.9,192.4 L311.9,195.1 L313.0,195.1 L313.0,197.8 L317.0,197.8 L317.0,205.7 L327.9,205.7 L327.9,210.0 L331.2,210.0 L331.2,213.0 L335.2,213.0 L335.2,227.9 L344.1,227.9 L344.1,231.7 L347.8,231.7 L347.8,235.5 L359.0,235.5 L359.0,239.5 L364.7,240.1 L365.5,247.2 L378.2,247.2 L378.2,254.4 L390.1,254.7 L392.9,254.7 L392.9,256.9 L395.6,256.9 L395.6,259.0 L396.9,259.0 L396.9,261.1 L398.2,261.1 L398.2,263.3 L399.5,263.3 L399.5,265.4 L400.6,265.4 L400.6,268.0 L401.6,268.0 L401.6,270.7 L402.7,270.7 L402.7,273.3 L405.4,273.3 L405.4,274.4 L408.0,274.4 L408.0,275.4 L410.7,275.4 L410.7,276.5 L423.9,276.5 L423.9,281.7 L425.6,281.7 L425.6,285.7 L427.9,285.7 L427.9,289.6 L430.5,289.6 L430.5,293.3 L435.2,293.3 L435.2,296.9 L440.5,296.9 L440.5,304.3 L468.0,304.3 L468.0,314.5 L484.2,314.5 L484.2,318.8 L492.1,318.8 L492.1,323.6 L533.0,323.6 L534.4,323.6 L534.4,331.4 L546.5,331.4 L546.5,336.0 L610.9,336.0 L611.1,339.6 L623.0,340.4 L623.8,348.4 L626.5,348.4 L626.5,348.9 L629.1,348.9 L629.1,349.5 L631.8,349.5 L631.8,350.0 L642.9,350.0 L643.7,358.7 L654.0,359.5 L654.8,363.5 L673.1,364.3 L673.9,364.3 L673.9,366.6 L674.7,366.6 L674.7,369.0 L727.1,369.8 L727.9,369.8 L727.9,372.2 L728.7,372.2 L728.7,374.6 L746.2,375.4 L747.8,375.4 L747.8,378.6 L750.4,378.6 L750.4,378.8 L753.0,378.8 L753.0,379.0 L755.6,379.0 L755.6,379.2 L758.1,379.2 L758.1,379.4 L760.7,379.4 L760.7,379.6 L763.3,379.6 L763.3,379.8 L765.9,379.8 L765.9,380.0 L768.5,380.0 L768.5,380.2 L769.2,380.2 L769.2,382.6 L770.0,382.6 L770.0,384.9 L772.4,384.9 L772.4,386.5 L774.8,386.5 L774.8,388.1 L774.8,392.1 L790.7,392.9 L791.5,392.9 L791.5,395.2 L792.3,395.2 L792.3,397.4 L793.1,397.4 L793.1,399.7 L832.1,399.7 L832.1,405.7 L855.2,405.7 L856.2,412.2 L862.6,413.1 L862.6,420.0 L958.1,420.0 L959.1,428.0 L960.3,428.0 L960.3,430.5 L961.6,430.5 L961.6,432.9 L962.8,432.9 L962.8,435.4 L970.2,436.3 L970.2,443.7 L996.2,443.7 L997.1,453.0 L1016.6,453.9 L1017.5,461.4 L1044.4,461.4 L1045.3,471.7 L1100.9,471.7 L1100.9,483.9 L1412.3,483.9" fill="none" stroke="#3159a5" stroke-width="4.3" stroke-linejoin="miter" stroke-linecap="butt"/>
<path d="M185.6,97.5v17.6M177.1,106.3h17M274.0,149.2v17.6M265.5,158.0h17M476.2,306.7v17.6M467.7,315.5h17M504.1,314.6v17.6M495.6,323.4h17M516.4,314.6v17.6M507.9,323.4h17M520.3,314.6v17.6M511.8,323.4h17M534.0,318.4v17.6M525.5,327.2h17M545.5,322.6v17.6M537.0,331.4h17M571.2,327.1v17.6M562.7,335.9h17M575.2,327.1v17.6M566.7,335.9h17M580.7,327.1v17.6M572.2,335.9h17M595.8,327.1v17.6M587.3,335.9h17M601.4,327.1v17.6M592.9,335.9h17M631.8,341.2v17.6M623.3,350.0h17M650.9,350.7v17.6M642.4,359.5h17M663.6,355.5v17.6M655.1,364.3h17M677.4,360.2v17.6M668.9,369.0h17M692.2,361.0v17.6M683.7,369.8h17M719.2,361.0v17.6M710.7,369.8h17M725.6,361.0v17.6M717.1,369.8h17M741.1,366.6v17.6M732.6,375.4h17M752.6,371.4v17.6M744.1,380.2h17M758.1,371.4v17.6M749.6,380.2h17M770.8,376.1v17.6M762.3,384.9h17M786.7,384.1v17.6M778.2,392.9h17M805.8,390.9v17.6M797.3,399.7h17M813.0,390.9v17.6M804.5,399.7h17M825.7,390.9v17.6M817.2,399.7h17M842.3,396.9v17.6M833.8,405.7h17M906.2,411.2v17.6M897.7,420.0h17M924.2,411.2v17.6M915.7,420.0h17M930.7,411.2v17.6M922.2,420.0h17M964.6,426.6v17.6M956.1,435.4h17M996.2,434.9v17.6M987.7,443.7h17M1017.5,452.6v17.6M1009.0,461.4h17M1035.1,452.6v17.6M1026.6,461.4h17M1043.4,452.6v17.6M1034.9,461.4h17M1049.9,462.9v17.6M1041.4,471.7h17M1094.4,462.9v17.6M1085.9,471.7h17M1121.0,475.1v17.6M1112.5,483.9h17M1127.2,475.1v17.6M1118.7,483.9h17M1152.7,475.1v17.6M1144.2,483.9h17M1156.7,475.1v17.6M1148.2,483.9h17M1187.2,475.1v17.6M1178.7,483.9h17M1190.1,475.1v17.6M1181.6,483.9h17M1204.1,475.1v17.6M1195.6,483.9h17M1258.3,475.1v17.6M1249.8,483.9h17M1272.5,475.1v17.6M1264.0,483.9h17M1281.9,475.1v17.6M1273.4,483.9h17M1342.4,475.1v17.6M1333.9,483.9h17M1364.3,475.1v17.6M1355.8,483.9h17M1403.6,475.1v17.6M1395.1,483.9h17" fill="none" stroke="#3159a5" stroke-width="3"/>
<path d="M1211,365.0h80" fill="none" stroke="#3159a5" stroke-width="4.4"/>
<path d="M1251.2,354.8v20.4" fill="none" stroke="#3159a5" stroke-width="3"/>
<text x="1310.2" y="373.8" text-anchor="start" fill="#231f20" font-size="27.3" >Atezo</text>
<path d="M1211,411.1h80" fill="none" stroke="#c0172c" stroke-width="4.4"/>
<path d="M1251.2,400.9v20.4" fill="none" stroke="#c0172c" stroke-width="3"/>
<text x="1309.6" y="421.3" text-anchor="start" fill="#231f20" font-size="27.3" >Chemo</text>
<line x1="453.5" y1="-59.9" x2="1510" y2="-59.9" stroke="#231f20" stroke-width="2.2"/>
<line x1="453.5" y1="189.8" x2="1510" y2="189.8" stroke="#231f20" stroke-width="2.2"/>
<text x="818.0" y="-70.7" text-anchor="middle" fill="#231f20" font-size="27.3" font-style="italic">n</text>
<text x="963.0" y="-70.7" text-anchor="middle" fill="#231f20" font-size="27.3" >Atezo</text>
<text x="1126.5" y="-70.7" text-anchor="middle" fill="#231f20" font-size="27.3" font-style="italic">n</text>
<text x="1270.5" y="-70.7" text-anchor="middle" fill="#231f20" font-size="27.3" >Chemo</text>
<text x="1456.0" y="-70.7" text-anchor="middle" fill="#231f20" font-size="27.3" font-style="italic">P</text>
<text x="460.4" y="-23.1" text-anchor="start" fill="#231f20" font-size="27.3" >Median, months (95% CI)</text>
<text x="500.8" y="16.9" text-anchor="start" fill="#231f20" font-size="27.3" >Stratified HR (95% CI)</text>
<text x="457.9" y="56.3" text-anchor="start" fill="#231f20" font-size="27.3" >Milestone months</text>
<text x="963.0" y="-23.1" text-anchor="middle" fill="#231f20" font-size="27.3" >13.3 (8.6, 18.4)</text>
<text x="1270.5" y="-23.1" text-anchor="middle" fill="#231f20" font-size="27.3" >10.3 (8.5, 13.8)</text>
<text x="1123.3" y="16.9" text-anchor="middle" fill="#231f20" font-size="27.3" >0.87 (0.64, 1.17)</text>
<text x="1110.0" y="56.3" text-anchor="middle" fill="#231f20" font-size="27.3" >Survival rate (95% CI), %</text>
<text x="499.7" y="96.7" text-anchor="start" fill="#231f20" font-size="27.3" >6</text>
<text x="818.0" y="96.7" text-anchor="middle" fill="#231f20" font-size="27.3" >93</text>
<text x="963.0" y="96.7" text-anchor="middle" fill="#231f20" font-size="27.3" >65 (57, 73)</text>
<text x="1126.5" y="96.7" text-anchor="middle" fill="#231f20" font-size="27.3" >93</text>
<text x="1270.5" y="96.7" text-anchor="middle" fill="#231f20" font-size="27.3" >72 (64, 80)</text>
<text x="499.7" y="136.8" text-anchor="start" fill="#231f20" font-size="27.3" >12</text>
<text x="818.0" y="136.8" text-anchor="middle" fill="#231f20" font-size="27.3" >55</text>
<text x="963.0" y="136.8" text-anchor="middle" fill="#231f20" font-size="27.3" >52 (43, 60)</text>
<text x="1126.5" y="136.8" text-anchor="middle" fill="#231f20" font-size="27.3" >43</text>
<text x="1270.5" y="136.8" text-anchor="middle" fill="#231f20" font-size="27.3" >42 (34, 51)</text>
<text x="499.7" y="176.1" text-anchor="start" fill="#231f20" font-size="27.3" >18</text>
<text x="818.0" y="176.1" text-anchor="middle" fill="#231f20" font-size="27.3" >29</text>
<text x="963.0" y="176.1" text-anchor="middle" fill="#231f20" font-size="27.3" >42 (33, 52)</text>
<text x="1126.5" y="176.1" text-anchor="middle" fill="#231f20" font-size="27.3" >22</text>
<text x="1270.5" y="176.1" text-anchor="middle" fill="#231f20" font-size="27.3" >28 (19, 37)</text>
<text x="1455.5" y="176.1" text-anchor="middle" fill="#231f20" font-size="27.3" >0.025</text>
<text x="-1.5" y="820.4" text-anchor="start" fill="#231f20" font-size="27.3" >No. at risk</text>
<text x="122.3" y="860.6" text-anchor="end" fill="#3159a5" font-size="27.3" >Atezo</text>
<text x="122.3" y="909.4" text-anchor="end" fill="#c0172c" font-size="27.3" >Chemo</text>
<text x="184.3" y="860.6" text-anchor="middle" fill="#3159a5" font-size="27.3" >145</text>
<text x="268.7" y="860.6" text-anchor="middle" fill="#3159a5" font-size="27.3" >131</text>
<text x="353.2" y="860.6" text-anchor="middle" fill="#3159a5" font-size="27.3" >109</text>
<text x="437.6" y="860.6" text-anchor="middle" fill="#3159a5" font-size="27.3" >93</text>
<text x="522.1" y="860.6" text-anchor="middle" fill="#3159a5" font-size="27.3" >81</text>
<text x="606.5" y="860.6" text-anchor="middle" fill="#3159a5" font-size="27.3" >67</text>
<text x="690.9" y="860.6" text-anchor="middle" fill="#3159a5" font-size="27.3" >55</text>
<text x="775.4" y="860.6" text-anchor="middle" fill="#3159a5" font-size="27.3" >44</text>
<text x="859.8" y="860.6" text-anchor="middle" fill="#3159a5" font-size="27.3" >33</text>
<text x="944.3" y="860.6" text-anchor="middle" fill="#3159a5" font-size="27.3" >29</text>
<text x="1028.7" y="860.6" text-anchor="middle" fill="#3159a5" font-size="27.3" >20</text>
<text x="1113.1" y="860.6" text-anchor="middle" fill="#3159a5" font-size="27.3" >14</text>
<text x="1197.6" y="860.6" text-anchor="middle" fill="#3159a5" font-size="27.3" >7</text>
<text x="1282.0" y="860.6" text-anchor="middle" fill="#3159a5" font-size="27.3" >4</text>
<text x="1366.5" y="860.6" text-anchor="middle" fill="#3159a5" font-size="27.3" >1</text>
<text x="184.3" y="909.4" text-anchor="middle" fill="#c0172c" font-size="27.3" >146</text>
<text x="268.7" y="909.4" text-anchor="middle" fill="#c0172c" font-size="27.3" >129</text>
<text x="353.2" y="909.4" text-anchor="middle" fill="#c0172c" font-size="27.3" >115</text>
<text x="437.6" y="909.4" text-anchor="middle" fill="#c0172c" font-size="27.3" >93</text>
<text x="522.1" y="909.4" text-anchor="middle" fill="#c0172c" font-size="27.3" >76</text>
<text x="606.5" y="909.4" text-anchor="middle" fill="#c0172c" font-size="27.3" >62</text>
<text x="690.9" y="909.4" text-anchor="middle" fill="#c0172c" font-size="27.3" >43</text>
<text x="775.4" y="909.4" text-anchor="middle" fill="#c0172c" font-size="27.3" >35</text>
<text x="859.8" y="909.4" text-anchor="middle" fill="#c0172c" font-size="27.3" >29</text>
<text x="944.3" y="909.4" text-anchor="middle" fill="#c0172c" font-size="27.3" >22</text>
<text x="1028.7" y="909.4" text-anchor="middle" fill="#c0172c" font-size="27.3" >17</text>
<text x="1113.1" y="909.4" text-anchor="middle" fill="#c0172c" font-size="27.3" >12</text>
<text x="1197.6" y="909.4" text-anchor="middle" fill="#c0172c" font-size="27.3" >11</text>
<text x="1282.0" y="909.4" text-anchor="middle" fill="#c0172c" font-size="27.3" >2</text>
<text x="1366.5" y="909.4" text-anchor="middle" fill="#c0172c" font-size="27.3" >0</text>
</g>
</svg>
</body></html>
